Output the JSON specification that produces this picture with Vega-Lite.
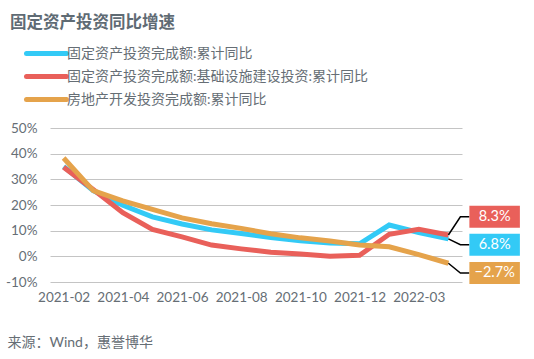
{
  "$schema": "https://vega.github.io/schema/vega-lite/v6.json",
  "width": 412,
  "height": 154,
  "autosize": {"type": "none"},
  "padding": {"left": 50, "top": 128, "right": 72, "bottom": 77},
  "background": "white",
  "config": {"view": {"stroke": null}, "font": "Lato, Noto Sans CJK SC"},
  "title": {"text": "固定资产投资同比增速", "anchor": "start", "frame": "group", "dx": -40, "fontSize": 16.5, "fontWeight": "bold", "color": "#5f6b74", "font": "Lato, Noto Sans CJK SC", "baseline": "alphabetic", "offset": -3},
  "data": {"values": [
    {"m": "2021-02", "s": "固定资产投资完成额:累计同比", "v": 35.0},
    {"m": "2021-03", "s": "固定资产投资完成额:累计同比", "v": 25.6},
    {"m": "2021-04", "s": "固定资产投资完成额:累计同比", "v": 19.9},
    {"m": "2021-05", "s": "固定资产投资完成额:累计同比", "v": 15.4},
    {"m": "2021-06", "s": "固定资产投资完成额:累计同比", "v": 12.6},
    {"m": "2021-07", "s": "固定资产投资完成额:累计同比", "v": 10.3},
    {"m": "2021-08", "s": "固定资产投资完成额:累计同比", "v": 8.9},
    {"m": "2021-09", "s": "固定资产投资完成额:累计同比", "v": 7.3},
    {"m": "2021-10", "s": "固定资产投资完成额:累计同比", "v": 6.1},
    {"m": "2021-11", "s": "固定资产投资完成额:累计同比", "v": 5.2},
    {"m": "2021-12", "s": "固定资产投资完成额:累计同比", "v": 4.9},
    {"m": "2022-02", "s": "固定资产投资完成额:累计同比", "v": 12.2},
    {"m": "2022-03", "s": "固定资产投资完成额:累计同比", "v": 9.3},
    {"m": "2022-04", "s": "固定资产投资完成额:累计同比", "v": 6.8},
    {"m": "2021-02", "s": "固定资产投资完成额:基础设施建设投资:累计同比", "v": 34.7},
    {"m": "2021-03", "s": "固定资产投资完成额:基础设施建设投资:累计同比", "v": 26.0},
    {"m": "2021-04", "s": "固定资产投资完成额:基础设施建设投资:累计同比", "v": 17.0},
    {"m": "2021-05", "s": "固定资产投资完成额:基础设施建设投资:累计同比", "v": 10.5},
    {"m": "2021-06", "s": "固定资产投资完成额:基础设施建设投资:累计同比", "v": 7.6},
    {"m": "2021-07", "s": "固定资产投资完成额:基础设施建设投资:累计同比", "v": 4.4},
    {"m": "2021-08", "s": "固定资产投资完成额:基础设施建设投资:累计同比", "v": 2.9},
    {"m": "2021-09", "s": "固定资产投资完成额:基础设施建设投资:累计同比", "v": 1.6},
    {"m": "2021-10", "s": "固定资产投资完成额:基础设施建设投资:累计同比", "v": 0.9},
    {"m": "2021-11", "s": "固定资产投资完成额:基础设施建设投资:累计同比", "v": 0.0},
    {"m": "2021-12", "s": "固定资产投资完成额:基础设施建设投资:累计同比", "v": 0.4},
    {"m": "2022-02", "s": "固定资产投资完成额:基础设施建设投资:累计同比", "v": 8.6},
    {"m": "2022-03", "s": "固定资产投资完成额:基础设施建设投资:累计同比", "v": 10.5},
    {"m": "2022-04", "s": "固定资产投资完成额:基础设施建设投资:累计同比", "v": 8.3},
    {"m": "2021-02", "s": "房地产开发投资完成额:累计同比", "v": 38.3},
    {"m": "2021-03", "s": "房地产开发投资完成额:累计同比", "v": 25.6},
    {"m": "2021-04", "s": "房地产开发投资完成额:累计同比", "v": 21.6},
    {"m": "2021-05", "s": "房地产开发投资完成额:累计同比", "v": 18.3},
    {"m": "2021-06", "s": "房地产开发投资完成额:累计同比", "v": 15.0},
    {"m": "2021-07", "s": "房地产开发投资完成额:累计同比", "v": 12.7},
    {"m": "2021-08", "s": "房地产开发投资完成额:累计同比", "v": 10.9},
    {"m": "2021-09", "s": "房地产开发投资完成额:累计同比", "v": 8.8},
    {"m": "2021-10", "s": "房地产开发投资完成额:累计同比", "v": 7.2},
    {"m": "2021-11", "s": "房地产开发投资完成额:累计同比", "v": 6.0},
    {"m": "2021-12", "s": "房地产开发投资完成额:累计同比", "v": 4.4},
    {"m": "2022-02", "s": "房地产开发投资完成额:累计同比", "v": 3.7},
    {"m": "2022-03", "s": "房地产开发投资完成额:累计同比", "v": 0.7},
    {"m": "2022-04", "s": "房地产开发投资完成额:累计同比", "v": -2.7}
  ]},
  "encoding": {
    "x": {"field": "m", "type": "ordinal", "sort": null, "scale": {"type": "point", "padding": 0.46},
      "axis": {"values": ["2021-02", "2021-04", "2021-06", "2021-08", "2021-10", "2021-12", "2022-03"], "labelAngle": 0, "labelFontSize": 13.5, "labelColor": "#666e75", "labelPadding": 8, "ticks": false, "domain": false, "grid": false,
        "title": "来源：Wind，惠誉博华", "titleX": -43, "titleY": 60, "titleAlign": "left", "titleAnchor": "start", "titleBaseline": "middle", "titleFontSize": 14, "titleFontWeight": "normal", "titleColor": "#666e75"}},
    "y": {"field": "v", "type": "quantitative", "scale": {"domain": [-10, 50], "nice": false, "zero": false},
      "axis": {"values": [-10, 0, 10, 20, 30, 40, 50], "labelExpr": "datum.value + '%'", "grid": true, "gridColor": "#c4c4c4", "gridWidth": 1, "domain": false, "ticks": false, "labelPadding": 13, "labelFontSize": 13.5, "labelColor": "#666e75", "title": null}}
  },
  "layer": [
    {"mark": {"type": "line", "strokeWidth": 5},
     "encoding": {"color": {"field": "s", "type": "nominal",
       "scale": {"domain": ["固定资产投资完成额:累计同比", "固定资产投资完成额:基础设施建设投资:累计同比", "房地产开发投资完成额:累计同比"], "range": ["#33CAF6", "#E9605A", "#E5A34B"]},
       "legend": {"orient": "none", "legendX": -16, "legendY": -87, "title": null, "symbolType": "M-2,0L2,0", "symbolSize": 400, "symbolStrokeWidth": 5, "labelOffset": 8, "rowPadding": 0, "padding": 0, "labelFontSize": 14, "labelColor": "#666e75", "labelLimit": 500, "encode": {"symbols": {"update": {"strokeCap": {"value": "round"}}}}}}}},
    {"transform": [{"filter": "datum.m == '2022-04'"}],
     "mark": {"type": "point", "filled": false, "color": "black", "strokeWidth": 1.5, "size": 400, "opacity": 1},
     "encoding": {"shape": {"field": "s", "type": "nominal",
       "scale": {"domain": ["固定资产投资完成额:累计同比", "固定资产投资完成额:基础设施建设投资:累计同比", "房地产开发投资完成额:累计同比"], "range": ["M0,0L1.2,0.58L2.1,0.58", "M0,0L1.2,-1.82L2.1,-1.82", "M0,0L1.2,0.97L2.1,0.97"]}, "legend": null}}},
    {"transform": [{"filter": "datum.m == '2022-04'"}],
     "mark": {"type": "point", "filled": true, "size": 400, "opacity": 1, "strokeWidth": 0},
     "encoding": {
       "fill": {"field": "s", "type": "nominal", "scale": {"domain": ["固定资产投资完成额:累计同比", "固定资产投资完成额:基础设施建设投资:累计同比", "房地产开发投资完成额:累计同比"], "range": ["#33CAF6", "#E9605A", "#E5A34B"]}, "legend": null},
       "shape": {"field": "s", "type": "nominal",
       "scale": {"domain": ["固定资产投资完成额:累计同比", "固定资产投资完成额:基础设施建设投资:累计同比", "房地产开发投资完成额:累计同比"], "range": ["M2.1,-0.52L7.15,-0.52L7.15,1.68L2.1,1.68Z", "M2.1,-2.92L7.15,-2.92L7.15,-0.72L2.1,-0.72Z", "M2.1,-0.13L7.15,-0.13L7.15,2.07L2.1,2.07Z"]}, "legend": null}}},
    {"transform": [{"filter": "datum.m == '2022-04' && datum.s == '固定资产投资完成额:累计同比'"}, {"calculate": "format(datum.v, '.1f') + '%'", "as": "lab"}],
     "mark": {"type": "text", "dx": 46.25, "dy": 5.8, "align": "center", "baseline": "middle", "color": "white", "fontSize": 14.5, "font": "Lato"},
     "encoding": {"text": {"field": "lab"}}},
    {"transform": [{"filter": "datum.m == '2022-04' && datum.s == '固定资产投资完成额:基础设施建设投资:累计同比'"}, {"calculate": "format(datum.v, '.1f') + '%'", "as": "lab"}],
     "mark": {"type": "text", "dx": 46.25, "dy": -18.2, "align": "center", "baseline": "middle", "color": "white", "fontSize": 14.5, "font": "Lato"},
     "encoding": {"text": {"field": "lab"}}},
    {"transform": [{"filter": "datum.m == '2022-04' && datum.s == '房地产开发投资完成额:累计同比'"}, {"calculate": "format(datum.v, '.1f') + '%'", "as": "lab"}],
     "mark": {"type": "text", "dx": 46.25, "dy": 9.7, "align": "center", "baseline": "middle", "color": "white", "fontSize": 14.5, "font": "Lato"},
     "encoding": {"text": {"field": "lab"}}}
  ],
  "resolve": {"scale": {"shape": "independent", "fill": "independent"}}
}
